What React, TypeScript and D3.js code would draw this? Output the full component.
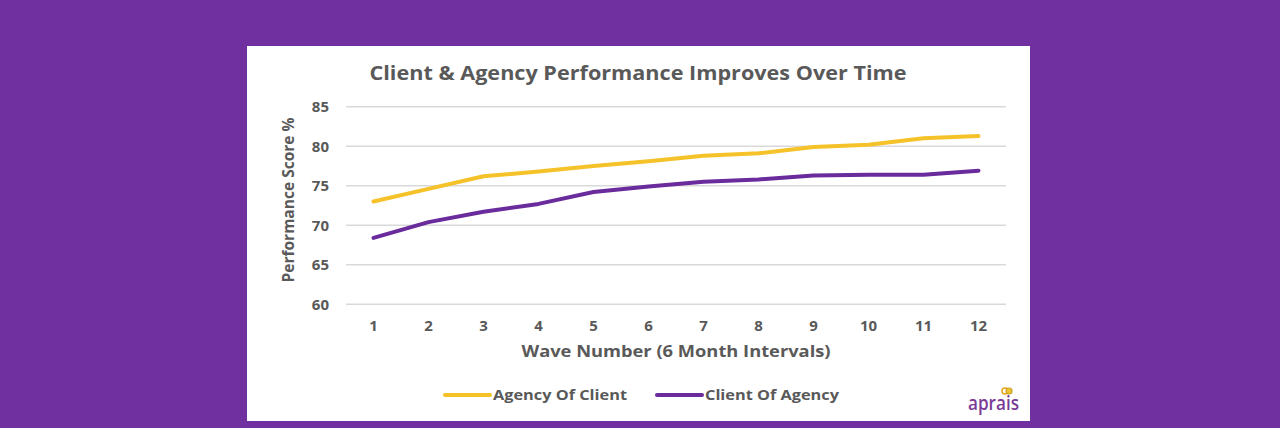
import { useMemo } from "react";
import * as d3 from "d3";

const WIDTH = 1280;
const HEIGHT = 428;
const PANEL = { x: 247, y: 46, w: 783, h: 375 };
const PLOT = { left: 346, right: 1006, top: 106.7, bottom: 304.3 };

const waves = ["1", "2", "3", "4", "5", "6", "7", "8", "9", "10", "11", "12"];
const agencyOfClient = [73.0, 74.6, 76.2, 76.8, 77.5, 78.1, 78.8, 79.1, 79.9, 80.2, 81.0, 81.3];
const clientOfAgency = [68.4, 70.4, 71.7, 72.7, 74.2, 74.9, 75.5, 75.8, 76.3, 76.4, 76.4, 76.9];
const yTicks = [60, 65, 70, 75, 80, 85];

const BG = "#7030A0";
const YELLOW = "#F5C22A";
const PURPLE = "#6A2B9C";
const TEXT = "#595959";
const FONT = "'Open Sans', 'DejaVu Sans', sans-serif";

const series = [
  { name: "Agency Of Client", values: agencyOfClient, color: YELLOW },
  { name: "Client Of Agency", values: clientOfAgency, color: PURPLE },
];

export default function App() {
  const xScale = useMemo(
    () => d3.scaleBand().domain(waves).range([PLOT.left, PLOT.right]),
    []
  );
  const yScale = useMemo(
    () => d3.scaleLinear().domain([60, 85]).range([PLOT.bottom, PLOT.top]),
    []
  );

  const lineGen = d3
    .line<number>()
    .x((_, i) => (xScale(waves[i]) as number) + xScale.bandwidth() / 2)
    .y((d) => yScale(d));

  return (
    <svg
      width={WIDTH}
      height={HEIGHT}
      style={{ position: "absolute", left: 0, top: 0 }}
    >
      <rect x={0} y={0} width={WIDTH} height={HEIGHT} fill={BG} />
      <rect x={PANEL.x} y={PANEL.y} width={PANEL.w} height={PANEL.h} fill="#ffffff" />

      {/* title */}
      <text
        x={638}
        y={80}
        textAnchor="middle"
        fontFamily={FONT}
        fontWeight={700}
        fontSize={19}
        fill={TEXT}
        textLength={537}
        lengthAdjust="spacingAndGlyphs"
      >
        Client &amp; Agency Performance Improves Over Time
      </text>

      {/* gridlines + y labels */}
      {yTicks.map((t) => (
        <g key={t}>
          <line
            x1={PLOT.left}
            x2={PLOT.right}
            y1={yScale(t)}
            y2={yScale(t)}
            stroke="#D9D9D9"
            strokeWidth={1.5}
          />
          <text
            x={329}
            y={yScale(t)}
            dy="0.36em"
            textAnchor="end"
            fontFamily={FONT}
            fontWeight={700}
            fontSize={15}
            fill={TEXT}
          >
            {t}
          </text>
        </g>
      ))}

      {/* x labels */}
      {waves.map((w) => (
        <text
          key={w}
          x={(xScale(w) as number) + xScale.bandwidth() / 2}
          y={326}
          dy="0.36em"
          textAnchor="middle"
          fontFamily={FONT}
          fontWeight={700}
          fontSize={15}
          fill={TEXT}
        >
          {w}
        </text>
      ))}

      {/* axis titles */}
      <text
        x={676}
        y={357}
        textAnchor="middle"
        fontFamily={FONT}
        fontWeight={700}
        fontSize={16}
        fill={TEXT}
        textLength={309}
        lengthAdjust="spacingAndGlyphs"
      >
        Wave Number (6 Month Intervals)
      </text>
      <text
        transform="translate(294,200) rotate(-90)"
        textAnchor="middle"
        fontFamily={FONT}
        fontWeight={700}
        fontSize={16}
        fill={TEXT}
        textLength={165}
        lengthAdjust="spacingAndGlyphs"
      >
        Performance Score %
      </text>

      {/* lines */}
      {series.map((s) => (
        <path
          key={s.name}
          d={lineGen(s.values) ?? ""}
          fill="none"
          stroke={s.color}
          strokeWidth={4}
          strokeLinejoin="round"
          strokeLinecap="round"
        />
      ))}

      {/* legend */}
      {series.map((s, i) => {
        const lx = i === 0 ? 445 : 657;
        return (
          <g key={s.name}>
            <line
              x1={lx}
              x2={lx + 45}
              y1={395}
              y2={395}
              stroke={s.color}
              strokeWidth={4}
              strokeLinecap="round"
            />
            <text
              x={lx + 48}
              y={395}
              dy="0.36em"
              fontFamily={FONT}
              fontWeight={700}
              fontSize={15}
              fill={TEXT}
              textLength={134}
              lengthAdjust="spacingAndGlyphs"
            >
              {s.name}
            </text>
          </g>
        );
      })}

      {/* logo */}
      <circle cx={1005} cy={391} r={3} fill="none" stroke="#E8A317" strokeWidth={1.6} />
      <circle cx={1009} cy={391} r={3} fill="#F2C230" stroke="#C9A227" strokeWidth={1.2} />
      <text
        x={968}
        y={410}
        fontFamily="'Open Sans', sans-serif"
        fontWeight={600}
        fontSize={19}
        fill="#7A3B96"
        textLength={51}
        lengthAdjust="spacingAndGlyphs"
      >
        aprais
      </text>
    </svg>
  );
}
